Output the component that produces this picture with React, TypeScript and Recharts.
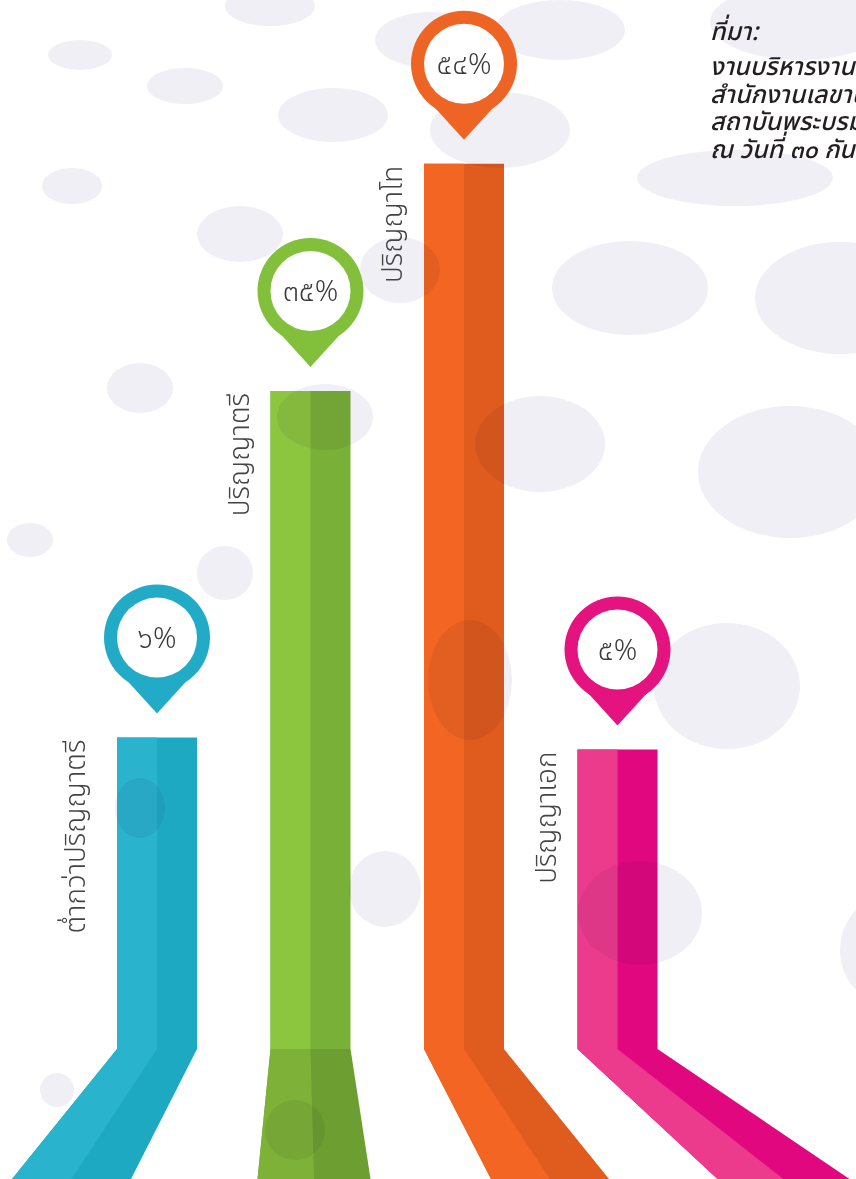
import React from 'react';
import { BarChart, Bar, XAxis, YAxis } from 'recharts';

// ---- data ----
const CATEGORIES = ['ต่ำกว่าปริญญาตรี', 'ปริญญาตรี', 'ปริญญาโท', 'ปริญญาเอก'];
const PERCENTS = [6, 35, 54, 5];
const SOURCE_LINES = ['ที่มา:', 'งานบริหารงานบุคคล', 'สำนักงานเลขานุการ', 'สถาบันพระบรมราชชนก', 'ณ วันที่ ๓๐ กันยายน'];

// ---- styles ----
const LIGHT = ['#2ab3cc', '#8cc63f', '#f26522', '#ec3a8c'];
const DARK = ['#1ea9c3', '#79b037', '#e05b1e', '#e1077e'];
const PIN = ['#22abc6', '#82c03c', '#ee6424', '#e4137f'];
const BEND_DX: number[][] = [[-105, -66], [-13, 20], [67, 105], [140, 192]];
const LOWER_SHADE = [0, 0.1, 0, 0];
const LABEL_GAP = [32, 22, 22, 22];
const ELLIPSES: number[][] = [
  [270, 6, 45, 20], [430, 40, 55, 28], [80, 55, 32, 15], [185, 86, 38, 18], [333, 115, 55, 27],
  [72, 186, 30, 18], [240, 234, 43, 28], [400, 270, 40, 33], [140, 388, 33, 25], [325, 417, 48, 33],
  [30, 540, 23, 17], [225, 573, 28, 27], [560, 30, 65, 30], [800, 22, 90, 38], [500, 130, 70, 38],
  [735, 178, 98, 28], [630, 288, 78, 47], [840, 298, 85, 56], [540, 444, 65, 48], [790, 472, 92, 66],
  [727, 686, 73, 63], [470, 680, 42, 60], [640, 913, 62, 52], [880, 950, 40, 50], [140, 808, 25, 30],
  [57, 1090, 17, 17], [295, 1130, 30, 30], [385, 889, 36, 38],
];

const W = 856;
const H = 1179;
const BEND_Y = 1049;
const THAI_FONT = "'Noto Sans Thai', 'Noto Sans Thai Looped', 'Noto Sans', Loma, Garuda, sans-serif";

const THAI_DIGITS = '๐๑๒๓๔๕๖๗๘๙';
const toThai = (n: number) => String(n).replace(/[0-9]/g, (d) => THAI_DIGITS[Number(d)]);

const data = CATEGORIES.map((name, i) => ({ name, value: PERCENTS[i] }));

function Column(props: any) {
  const { x, y, width, index, payload } = props;
  const i = index ?? 0;
  const w = width;
  const [dxL, dxR] = BEND_DX[i];
  const mid = x + w / 2;
  const dxM = (dxL + dxR) / 2;
  const full = `M${x},${y} L${x + w},${y} L${x + w},${BEND_Y} L${x + w + dxR},${H} L${x + dxL},${H} L${x},${BEND_Y} Z`;
  const left = `M${x},${y} L${mid},${y} L${mid},${BEND_Y} L${mid + dxM},${H} L${x + dxL},${H} L${x},${BEND_Y} Z`;
  const lower = `M${x},${BEND_Y} L${x + w},${BEND_Y} L${x + w + dxR},${H} L${x + dxL},${H} Z`;
  const cx = mid;
  const cy = y - 100;
  return (
    <g>
      <g style={{ mixBlendMode: 'multiply' }}>
        <path d={full} fill={DARK[i]} />
        <path d={left} fill={LIGHT[i]} />
        {LOWER_SHADE[i] > 0 && <path d={lower} fill="#000" fillOpacity={LOWER_SHADE[i]} />}
      </g>
      <circle cx={cx} cy={cy} r={53} fill={PIN[i]} />
      <path d={`M${cx - 30},${cy + 43} L${cx + 30},${cy + 43} L${cx},${cy + 76} Z`} fill={PIN[i]} />
      <circle cx={cx} cy={cy} r={40} fill="#ffffff" />
      <text x={cx} y={cy + 10} textAnchor="middle" fontSize={29} fontWeight={300} fill="#3a3a3a" fontFamily={THAI_FONT}>
        {toThai(payload.value)}%
      </text>
      <text
        transform={`translate(${x - LABEL_GAP[i]}, ${y + 2}) rotate(-90)`}
        textAnchor="end"
        fontSize={28}
        fontWeight={300}
        fill="#444"
        fontFamily={THAI_FONT}
      >
        {payload.name}
      </text>
    </g>
  );
}

export default function App() {
  return (
    <div style={{ position: 'absolute', left: 0, top: 0, width: W, height: H, background: '#fff', overflow: 'hidden' }}>
      <BarChart width={W} height={H} data={data} margin={{ top: 0, right: 162, bottom: 0, left: 80 }}>
        <g>
          {ELLIPSES.map(([cx, cy, rx, ry], k) => (
            <ellipse key={k} cx={cx} cy={cy} rx={rx} ry={ry} fill="#f0eff6" />
          ))}
        </g>
        <XAxis dataKey="name" hide />
        <YAxis hide type="number" domain={[-30.92, 67.7]} />
        <Bar dataKey="value" barSize={80} isAnimationActive={false} shape={(p: any) => <Column {...p} />} />
        <g>
          {SOURCE_LINES.map((t, k) => (
            <text
              key={k}
              x={710}
              y={k === 0 ? 40 : 75 + (k - 1) * 27.5}
              fontSize={25}
              fontStyle="italic"
              fontWeight={500}
              fill="#231f20"
              fontFamily={THAI_FONT}
            >
              {t}
            </text>
          ))}
        </g>
      </BarChart>
    </div>
  );
}
